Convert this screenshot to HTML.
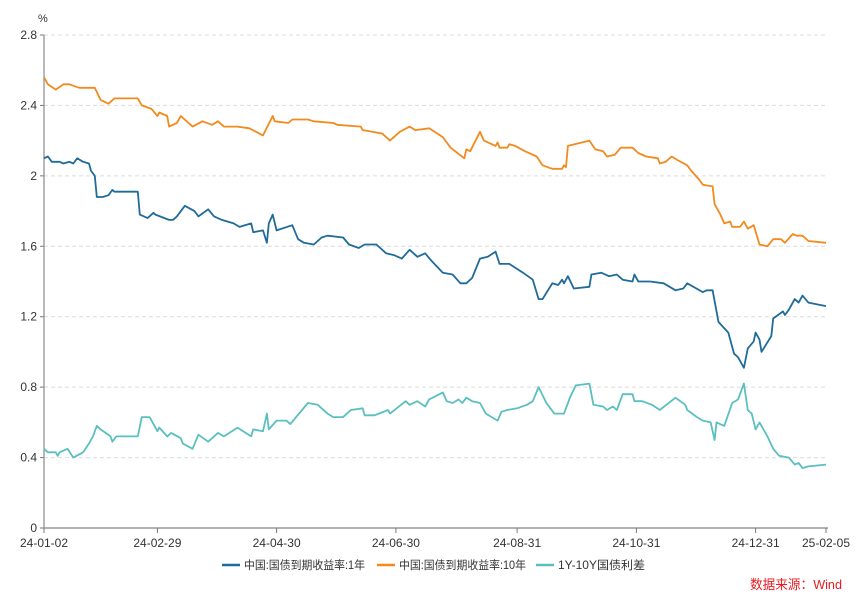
<!DOCTYPE html>
<html><head><meta charset="utf-8"><style>
html,body{margin:0;padding:0;background:#fff;}
body{width:865px;height:603px;overflow:hidden;font-family:"Liberation Sans","Noto Sans CJK SC",sans-serif;}
</style></head><body>
<svg id="chart" width="865" height="603" xmlns="http://www.w3.org/2000/svg" font-family="Liberation Sans, Noto Sans CJK SC, sans-serif">
<g id="grid"></g>
<g id="axes"></g>
<g id="series"></g>
<g font-size="11.5" fill="#333">
  <line x1="222" y1="565" x2="240" y2="565" stroke="#1f6b9a" stroke-width="2.5"/>
  <text x="244" y="569" textLength="121" lengthAdjust="spacingAndGlyphs">中国:国债到期收益率:1年</text>
  <line x1="377" y1="565" x2="395" y2="565" stroke="#f28a1e" stroke-width="2.5"/>
  <text x="399" y="569" textLength="127" lengthAdjust="spacingAndGlyphs">中国:国债到期收益率:10年</text>
  <line x1="536" y1="565" x2="554" y2="565" stroke="#5bbfbf" stroke-width="2.5"/>
  <text x="558" y="569" textLength="87" lengthAdjust="spacingAndGlyphs">1Y-10Y国债利差</text>
</g>
<text x="750" y="589" font-size="13" fill="#e8191f" textLength="92" lengthAdjust="spacingAndGlyphs">数据来源：Wind</text>
<text x="38" y="22" font-size="11" fill="#333">%</text>
</svg>
<script>
const yTicks=[0,0.4,0.8,1.2,1.6,2,2.4,2.8];
const yTickLabels=['0','0.4','0.8','1.2','1.6','2','2.4','2.8'];
const xTickDays=[0,58,119,180,242,303,364,400];
const xTickLabels=['24-01-02','24-02-29','24-04-30','24-06-30','24-08-31','24-10-31','24-12-31','25-02-05'];
const days1y=[0,2,4,8,10,13,15,17,20,23,24,26,27,30,33,35,36,48,49,53,56,57,64,66,68,72,77,79,84,87,91,97,100,106,107,112,114,115,117,119,127,130,133,138,142,145,153,156,161,164,170,175,179,183,187,191,195,198,204,209,213,216,219,223,227,231,233,238,245,250,253,255,260,263,265,266,268,271,279,280,285,289,293,296,301,302,304,310,317,323,327,329,337,339,342,345,350,353,355,358,360,363,364,366,367,372,373,378,379,381,384,386,388,391,400];
const vals1y=[2.10,2.11,2.08,2.08,2.07,2.08,2.07,2.10,2.08,2.07,2.03,2.00,1.88,1.88,1.89,1.92,1.91,1.91,1.78,1.76,1.79,1.78,1.75,1.75,1.77,1.83,1.80,1.77,1.81,1.77,1.75,1.73,1.71,1.73,1.68,1.69,1.62,1.73,1.78,1.69,1.72,1.64,1.62,1.61,1.65,1.66,1.65,1.61,1.59,1.61,1.61,1.56,1.55,1.53,1.58,1.54,1.56,1.52,1.45,1.44,1.39,1.39,1.42,1.53,1.54,1.57,1.50,1.50,1.45,1.41,1.30,1.30,1.39,1.38,1.41,1.39,1.43,1.36,1.37,1.44,1.45,1.43,1.44,1.41,1.40,1.44,1.40,1.40,1.39,1.35,1.36,1.39,1.34,1.35,1.35,1.17,1.11,0.99,0.97,0.91,1.02,1.06,1.11,1.07,1.00,1.09,1.19,1.23,1.21,1.24,1.30,1.28,1.32,1.28,1.26];
const days10y=[0,2,6,10,13,18,26,29,33,36,48,50,55,58,59,63,64,68,70,73,76,81,86,89,92,99,105,112,117,118,125,127,135,138,148,150,162,163,168,173,177,182,187,190,197,204,208,215,216,218,223,225,231,232,233,237,238,241,246,252,255,260,265,266,267,268,279,282,286,288,292,295,301,304,308,314,315,318,321,324,329,331,335,337,342,343,346,348,351,352,356,358,360,363,366,370,373,377,379,383,385,388,391,400];
const vals10y=[2.56,2.52,2.49,2.52,2.52,2.50,2.50,2.43,2.41,2.44,2.44,2.40,2.38,2.34,2.36,2.34,2.28,2.30,2.34,2.31,2.28,2.31,2.29,2.31,2.28,2.28,2.27,2.23,2.34,2.31,2.30,2.32,2.32,2.31,2.30,2.29,2.28,2.26,2.25,2.24,2.20,2.25,2.28,2.26,2.27,2.22,2.16,2.10,2.15,2.14,2.25,2.20,2.17,2.19,2.16,2.16,2.18,2.17,2.14,2.11,2.06,2.04,2.04,2.06,2.05,2.17,2.20,2.15,2.14,2.11,2.12,2.16,2.16,2.13,2.11,2.10,2.07,2.08,2.11,2.09,2.06,2.03,1.98,1.95,1.94,1.84,1.78,1.73,1.74,1.71,1.71,1.74,1.70,1.72,1.61,1.60,1.64,1.64,1.62,1.67,1.66,1.66,1.63,1.62];
const daysSp=[0,2,6,7,8,12,15,20,23,25,27,29,34,35,37,48,50,54,58,59,63,65,70,71,76,79,84,89,92,99,106,107,112,114,115,119,124,126,135,140,145,148,153,157,163,164,169,176,177,185,187,191,195,197,204,206,209,212,214,216,219,223,226,232,234,237,242,247,250,253,257,261,266,269,272,279,281,286,288,291,293,296,301,302,306,311,315,323,328,329,334,337,341,343,344,348,352,355,358,360,362,364,366,370,373,376,381,384,386,388,391,400];
const valsSp=[0.45,0.43,0.43,0.41,0.43,0.45,0.40,0.43,0.48,0.52,0.58,0.56,0.52,0.49,0.52,0.52,0.63,0.63,0.55,0.57,0.52,0.54,0.51,0.48,0.45,0.53,0.49,0.54,0.52,0.57,0.52,0.56,0.55,0.65,0.56,0.61,0.61,0.59,0.71,0.70,0.65,0.63,0.63,0.67,0.68,0.64,0.64,0.67,0.65,0.72,0.70,0.72,0.69,0.73,0.77,0.72,0.71,0.73,0.71,0.74,0.72,0.71,0.65,0.61,0.66,0.67,0.68,0.70,0.72,0.80,0.71,0.65,0.65,0.74,0.81,0.82,0.70,0.69,0.67,0.69,0.67,0.76,0.76,0.72,0.72,0.70,0.67,0.74,0.70,0.67,0.63,0.61,0.60,0.50,0.60,0.58,0.71,0.73,0.82,0.67,0.65,0.56,0.60,0.52,0.45,0.41,0.40,0.36,0.37,0.34,0.35,0.36];

const NS='http://www.w3.org/2000/svg';
const X0=44,X1=826,Y0=528,YT=35;
function xs(d){return X0+(X1-X0)*d/400;}
function ys(v){return Y0-(Y0-YT)*v/2.8;}
function mk(tag,attrs,parent){const e=document.createElementNS(NS,tag);for(const k in attrs)e.setAttribute(k,attrs[k]);parent.appendChild(e);return e;}
const grid=document.getElementById('grid'),axes=document.getElementById('axes'),series=document.getElementById('series');
yTicks.forEach((v,i)=>{
  if(v>0){const g=mk('line',{x1:X0,x2:X1,y1:ys(v),y2:ys(v),stroke:'#dcdcdc','stroke-dasharray':'4,3'},grid);
  
  }
  const t=mk('line',{x1:X0-4,x2:X0,y1:ys(v),y2:ys(v),stroke:'#777'},axes);
  
  
  const l=mk('text',{x:X0-7,y:ys(v)+4,'text-anchor':'end','font-size':12,fill:'#333'},axes);
  l.textContent=yTickLabels[i];
  
  
});
const ya=mk('line',{x1:X0,x2:X0,y1:YT,y2:Y0,stroke:'#888','stroke-width':1.2},axes);


const xa=mk('line',{x1:X0,x2:X1+2,y1:Y0,y2:Y0,stroke:'#999','stroke-width':1.5},axes);


xTickDays.forEach((d,i)=>{
  const t=mk('line',{x1:xs(d),x2:xs(d),y1:Y0,y2:Y0+5,stroke:'#777'},axes);
  
  
  const l=mk('text',{x:xs(d),y:Y0+19,'text-anchor':'middle','font-size':12,fill:'#333'},axes);
  l.textContent=xTickLabels[i];
  
  
});
function draw(days,vals,color,name){
  const pts=days.map((d,i)=>xs(d).toFixed(1)+','+ys(vals[i]).toFixed(1)).join(' ');
  const p=mk('polyline',{points:pts,fill:'none',stroke:color,'stroke-width':1.8,'stroke-linejoin':'round'},series);
  
  
}
draw(daysSp,valsSp,'#5bbfbf','series-spread-line');
draw(days10y,vals10y,'#f28a1e','series-10y-line');
draw(days1y,vals1y,'#1f6b9a','series-1y-line');
</script>
</body></html>
